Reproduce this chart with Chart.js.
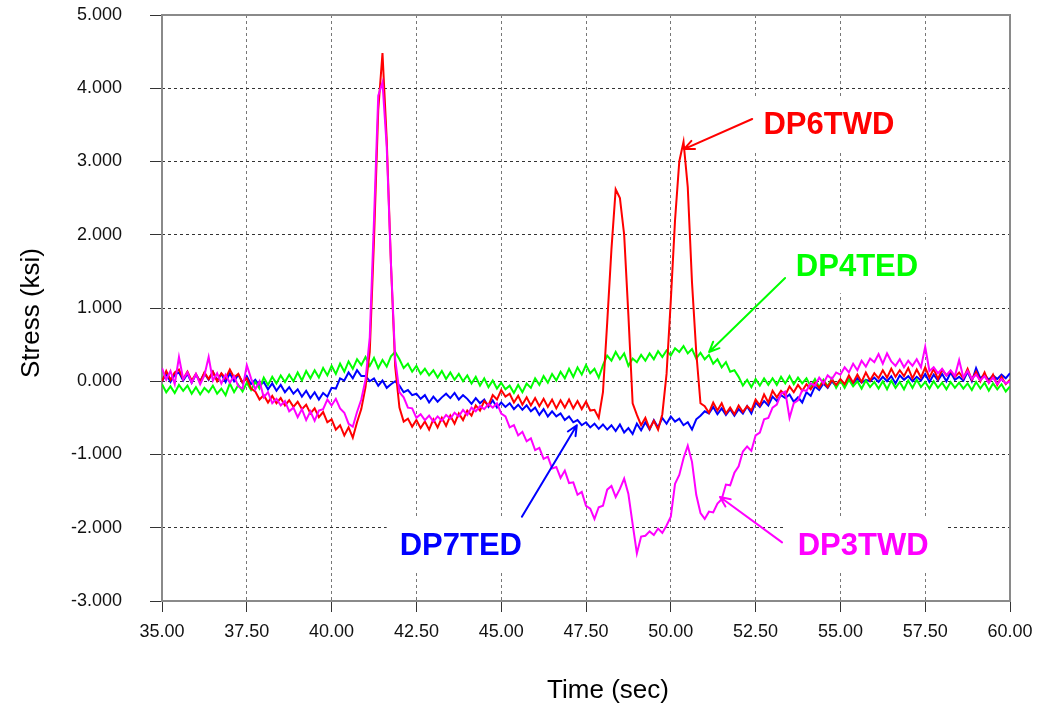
<!DOCTYPE html>
<html>
<head>
<meta charset="utf-8">
<title>Stress vs Time</title>
<script src="https://cdn.jsdelivr.net/npm/chart.js@4.4.0/dist/chart.umd.min.js"></script>
<style>
  html, body { margin: 0; padding: 0; background: #ffffff; }
  #wrap { width: 1040px; height: 713px; }
</style>
</head>
<body>
<div id="wrap"><canvas id="c" width="1040" height="713"></canvas></div>
<script>
// Sampling grid: one reading every 0.125 s from 35 s to 60 s
const T_START = 35;
const T_STEP = 0.125;
const time = Array.from({ length: 201 }, (_, i) => T_START + i * T_STEP);

// Tick labels
const timeTicks = [35, 37.5, 40, 42.5, 45, 47.5, 50, 52.5, 55, 57.5, 60];
const stressTicks = [-3, -2, -1, 0, 1, 2, 3, 4, 5];

// Gauge readings (ksi), one row per second
const dp4ted = [
  -0.04, -0.15, -0.07, -0.16, -0.05, -0.13, -0.06, -0.17,
  -0.08, -0.18, -0.09, -0.15, -0.06, -0.17, -0.10, -0.19,
  -0.03, -0.15, -0.05, -0.14, -0.02, -0.12, -0.01, -0.10,
  0.05, -0.05, 0.06, -0.03, 0.08, -0.01, 0.09, 0.00,
  0.12, 0.01, 0.14, 0.04, 0.15, 0.05, 0.18, 0.08,
  0.21, 0.10, 0.24, 0.13, 0.27, 0.17, 0.30, 0.22,
  0.33, 0.21, 0.32, 0.18, 0.29, 0.20, 0.34, 0.40,
  0.30, 0.18, 0.24, 0.13, 0.21, 0.10, 0.17, 0.08,
  0.15, 0.05, 0.14, 0.03, 0.12, 0.02, 0.10, 0.00,
  0.08, -0.03, 0.06, -0.06, 0.04, -0.08, 0.01, -0.10,
  -0.02, -0.11, -0.06, -0.16, -0.05, -0.15, -0.03, -0.09,
  0.04, -0.05, 0.07, -0.02, 0.10, 0.01, 0.13, 0.04,
  0.17, 0.06, 0.19, 0.09, 0.22, 0.11, 0.17, 0.05,
  0.22, 0.35, 0.28, 0.40, 0.30, 0.38, 0.21, 0.31,
  0.26, 0.36, 0.28, 0.38, 0.30, 0.41, 0.33, 0.42,
  0.35, 0.45, 0.40, 0.48, 0.38, 0.44, 0.31, 0.39,
  0.30, 0.36, 0.24, 0.30, 0.19, 0.26, 0.13, 0.15,
  0.06, -0.06, 0.02, -0.08, 0.03, -0.06, 0.04, -0.05,
  0.04, -0.05, 0.06, -0.03, 0.07, -0.04, 0.05, -0.03,
  0.04, -0.07, 0.03, -0.08, 0.02, -0.07, 0.04, -0.09,
  0.01, -0.09, 0.02, -0.07, 0.00, -0.10, 0.01, -0.08,
  -0.01, -0.10, 0.00, -0.11, 0.01, -0.09, -0.01, -0.11,
  0.01, -0.09, 0.02, -0.08, -0.01, -0.10, 0.00, -0.09,
  -0.02, -0.11, -0.01, -0.09, -0.02, -0.10, -0.03, -0.12,
  -0.01, -0.10, -0.02, -0.13, -0.03, -0.11, -0.04, -0.14,
  -0.07
];

const dp6twd = [
  0.00, 0.14, 0.02, 0.12, 0.16, 0.03, 0.13, 0.01,
  0.10, -0.01, 0.12, 0.03, 0.13, 0.00, 0.11, 0.04,
  0.16, 0.05, 0.10, -0.02, 0.04, -0.10, -0.14, -0.25,
  -0.19, -0.29, -0.20, -0.30, -0.23, -0.33, -0.26, -0.35,
  -0.28, -0.38, -0.32, -0.44, -0.37, -0.49, -0.42, -0.56,
  -0.52, -0.66, -0.60, -0.74, -0.63, -0.77, -0.56, -0.38,
  -0.08, 0.40, 1.93, 3.70, 4.48, 3.30, 1.60, 0.20,
  -0.36, -0.55, -0.51, -0.62, -0.53, -0.64, -0.55, -0.66,
  -0.52, -0.63, -0.50, -0.61, -0.47, -0.58, -0.44, -0.53,
  -0.40, -0.47, -0.33, -0.40, -0.27, -0.33, -0.19, -0.25,
  -0.12, -0.21, -0.17, -0.29, -0.20, -0.32, -0.22, -0.33,
  -0.23, -0.34, -0.24, -0.35, -0.25, -0.37, -0.26, -0.36,
  -0.25, -0.37, -0.27, -0.38, -0.28, -0.40, -0.39, -0.50,
  -0.15, 0.80, 1.80, 2.62, 2.50, 2.00, 0.90, -0.30,
  -0.46, -0.60, -0.50, -0.65, -0.54, -0.66, -0.45, 0.10,
  1.10, 2.20, 3.00, 3.27, 2.65, 1.35, 0.40, -0.30,
  -0.34, -0.43, -0.29, -0.40, -0.30, -0.44, -0.36, -0.45,
  -0.33, -0.42, -0.34, -0.40, -0.25, -0.33, -0.18, -0.29,
  -0.13, -0.22, -0.13, -0.19, -0.07, -0.15, -0.05, -0.13,
  -0.04, -0.11, -0.02, -0.09, 0.00, -0.08, 0.02, -0.05,
  0.03, -0.04, 0.08, -0.02, 0.09, -0.01, 0.12, 0.01,
  0.11, 0.04, 0.15, 0.05, 0.17, 0.06, 0.15, 0.07,
  0.18, 0.04, 0.16, 0.05, 0.19, 0.05, 0.17, 0.03,
  0.16, 0.08, 0.14, 0.06, 0.12, 0.04, 0.17, 0.02,
  0.13, 0.00, 0.12, -0.02, 0.09, -0.05, 0.06, -0.04,
  0.02
];

const dp7ted = [
  0.00, 0.10, -0.01, 0.09, 0.12, 0.01, 0.10, -0.02,
  0.09, 0.00, 0.11, 0.02, 0.13, 0.01, 0.10, -0.01,
  0.11, 0.00, 0.09, -0.02, 0.07, -0.04, 0.02, -0.06,
  -0.01, -0.11, -0.03, -0.13, -0.05, -0.15, -0.08, -0.17,
  -0.11, -0.21, -0.13, -0.23, -0.15, -0.25, -0.16, -0.21,
  -0.09, -0.10, 0.04, 0.01, 0.12, 0.04, 0.15, 0.07,
  0.07, 0.00, 0.04, -0.06, 0.01, -0.09, -0.04, 0.00,
  -0.06, -0.15, -0.12, -0.19, -0.17, -0.24, -0.19, -0.29,
  -0.21, -0.28, -0.22, -0.17, -0.23, -0.16, -0.25, -0.19,
  -0.24, -0.31, -0.23, -0.30, -0.25, -0.35, -0.26, -0.36,
  -0.29, -0.35, -0.30, -0.38, -0.32, -0.39, -0.33, -0.41,
  -0.36, -0.46, -0.38, -0.48, -0.41, -0.48, -0.44, -0.53,
  -0.48, -0.56, -0.53, -0.60, -0.56, -0.63, -0.58, -0.65,
  -0.59, -0.66, -0.60, -0.68, -0.59, -0.70, -0.64, -0.72,
  -0.58, -0.67, -0.56, -0.66, -0.53, -0.63, -0.50, -0.58,
  -0.48, -0.55, -0.51, -0.60, -0.56, -0.66, -0.52, -0.47,
  -0.41, -0.44, -0.35, -0.45, -0.37, -0.46, -0.38, -0.47,
  -0.38, -0.44, -0.34, -0.44, -0.29, -0.35, -0.27, -0.33,
  -0.21, -0.27, -0.19, -0.23, -0.18, -0.28, -0.22, -0.29,
  -0.15, -0.20, -0.07, -0.12, -0.03, -0.09, 0.00, -0.07,
  0.02, -0.04, 0.03, -0.03, 0.04, -0.02, 0.02, 0.00,
  0.05, -0.01, 0.06, 0.00, 0.07, -0.03, 0.08, 0.02,
  0.07, 0.00, 0.06, 0.01, 0.10, -0.01, 0.09, 0.01,
  0.10, 0.00, 0.12, 0.02, 0.06, 0.01, 0.13, 0.00,
  0.18, 0.04, 0.09, 0.02, 0.08, 0.03, 0.09, 0.04,
  0.11
];

const dp3twd = [
  0.18, 0.02, 0.14, -0.04, 0.33, 0.03, 0.12, -0.02,
  0.10, -0.04, 0.08, 0.33, 0.01, 0.11, -0.03, 0.09,
  -0.02, 0.07, -0.07, -0.10, 0.22, 0.04, -0.11, 0.00,
  -0.22, -0.15, -0.30, -0.24, -0.33, -0.27, -0.41, -0.36,
  -0.49, -0.38, -0.53, -0.41, -0.54, -0.40, -0.38, -0.25,
  -0.33, -0.24, -0.37, -0.43, -0.58, -0.62, -0.42, -0.25,
  0.02, 0.60, 2.20, 3.90, 4.08, 3.20, 1.60, 0.30,
  -0.15, -0.22, -0.36, -0.37, -0.50, -0.45, -0.53, -0.47,
  -0.55, -0.48, -0.54, -0.46, -0.51, -0.43, -0.48, -0.39,
  -0.46, -0.36, -0.41, -0.34, -0.38, -0.31, -0.36, -0.30,
  -0.44, -0.48, -0.63, -0.60, -0.74, -0.69, -0.82, -0.78,
  -0.94, -0.91, -1.06, -1.03, -1.19, -1.17, -1.32, -1.22,
  -1.39, -1.38, -1.55, -1.51, -1.70, -1.74, -1.88, -1.72,
  -1.70, -1.48, -1.43, -1.58, -1.47, -1.33, -1.54, -1.95,
  -2.35, -2.12, -2.11, -2.05, -2.10, -2.01, -2.07, -1.97,
  -1.85, -1.40, -1.28, -1.05, -0.88, -1.10, -1.55, -1.80,
  -1.88, -1.78, -1.79, -1.67, -1.61, -1.41, -1.42, -1.25,
  -1.16, -0.96, -0.89, -0.95, -0.74, -0.70, -0.52, -0.50,
  -0.36, -0.32, -0.17, -0.14, -0.50, -0.30, -0.26, -0.12,
  -0.13, -0.03, -0.06, 0.05, -0.03, 0.08, 0.03, 0.12,
  0.09, 0.19, 0.12, 0.24, 0.15, 0.28, 0.20, 0.31,
  0.26, 0.37, 0.24, 0.38, 0.27, 0.21, 0.30, 0.19,
  0.28, 0.21, 0.30, 0.19, 0.47, 0.14, 0.19, 0.11,
  0.17, 0.08, 0.15, 0.07, 0.29, 0.05, 0.14, 0.03,
  0.09, 0.01, 0.07, -0.02, 0.05, -0.04, 0.03, -0.03,
  0.00
];

// Callout labels: text position, arrow tail and arrow tip, all in (time, stress)
const callouts = [
  { text: 'DP6TWD', color: '#ff0000', at: [54.66, 3.51], tail: [52.40, 3.58], tip: [50.39, 3.17] },
  { text: 'DP4TED', color: '#00ff00', at: [55.49, 1.57], tail: [53.37, 1.41], tip: [51.13, 0.40] },
  { text: 'DP7TED', color: '#0000ff', at: [43.81, -2.24], tail: [45.61, -1.85], tip: [47.23, -0.60] },
  { text: 'DP3TWD', color: '#ff00ff', at: [55.67, -2.24], tail: [53.28, -2.20], tip: [51.45, -1.58] }
];

const FONT = "'Liberation Sans', Arial, Helvetica, sans-serif";

const toPoints = vals => vals.map((v, i) => ({ x: time[i], y: v }));

// Plot frame drawn under the traces
const framePlugin = {
  id: 'frame',
  beforeDatasetsDraw(chart) {
    const { ctx, chartArea: a } = chart;
    ctx.save();
    ctx.strokeStyle = '#8a8a8a';
    ctx.lineWidth = 2;
    ctx.strokeRect(a.left, a.top, a.right - a.left, a.bottom - a.top);
    ctx.restore();
  }
};

// Axis titles and labelled arrows
const annotatePlugin = {
  id: 'annotate',
  afterDraw(chart) {
    const { ctx, chartArea: a, scales } = chart;
    const X = v => scales.x.getPixelForValue(v);
    const Y = v => scales.y.getPixelForValue(v);

    ctx.save();
    ctx.fillStyle = '#000';
    ctx.font = '26px ' + FONT;
    ctx.textAlign = 'center';
    ctx.textBaseline = 'middle';
    ctx.fillText('Time (sec)', (a.left + a.right) / 2 + 22, 691);
    ctx.translate(32, (a.top + a.bottom) / 2 + 5);
    ctx.rotate(-Math.PI / 2);
    ctx.fillText('Stress (ksi)', 0, 0);
    ctx.restore();

    callouts.forEach(c => {
      const cx = X(c.at[0]), cy = Y(c.at[1]);
      ctx.save();
      ctx.font = 'bold 31px ' + FONT;
      const w = ctx.measureText(c.text).width;
      // white panel behind the label
      ctx.fillStyle = '#ffffff';
      ctx.fillRect(cx - w / 2 - 13, cy - 27, w + 31, 54);
      ctx.fillStyle = c.color;
      ctx.textAlign = 'center';
      ctx.textBaseline = 'middle';
      ctx.fillText(c.text, cx, cy + 1);

      // arrow
      const x0 = X(c.tail[0]), y0 = Y(c.tail[1]);
      const x1 = X(c.tip[0]), y1 = Y(c.tip[1]);
      ctx.strokeStyle = c.color;
      ctx.lineWidth = 2;
      ctx.lineCap = 'round';
      ctx.beginPath();
      ctx.moveTo(x0, y0);
      ctx.lineTo(x1, y1);
      const ang = Math.atan2(y1 - y0, x1 - x0);
      const head = 11, spread = 0.42;
      ctx.moveTo(x1, y1);
      ctx.lineTo(x1 - head * Math.cos(ang - spread), y1 - head * Math.sin(ang - spread));
      ctx.moveTo(x1, y1);
      ctx.lineTo(x1 - head * Math.cos(ang + spread), y1 - head * Math.sin(ang + spread));
      ctx.stroke();
      ctx.restore();
    });
  }
};

new Chart(document.getElementById('c'), {
  type: 'line',
  data: {
    datasets: [
      { label: 'DP3TWD', data: toPoints(dp3twd), borderColor: '#ff00ff', order: 0 },
      { label: 'DP6TWD', data: toPoints(dp6twd), borderColor: '#ff0000', order: 1 },
      { label: 'DP4TED', data: toPoints(dp4ted), borderColor: '#00ff00', order: 2 },
      { label: 'DP7TED', data: toPoints(dp7ted), borderColor: '#0000ff', order: 3 }
    ]
  },
  options: {
    responsive: false,
    animation: false,
    devicePixelRatio: 1,
    layout: { padding: { top: 15, right: 30, left: 0, bottom: 0 } },
    elements: {
      point: { radius: 0 },
      line: { borderWidth: 2, tension: 0, fill: false }
    },
    plugins: { legend: { display: false }, tooltip: { enabled: false } },
    scales: {
      x: {
        type: 'linear',
        min: 35,
        max: 60,
        afterFit(s) { s.height = 112; s.paddingLeft = 0; s.paddingRight = 0; },
        afterBuildTicks(s) { s.ticks = timeTicks.map(v => ({ value: v })); },
        ticks: {
          callback: v => Number(v).toFixed(2),
          font: { family: FONT, size: 18 },
          color: '#111',
          padding: 9,
          maxRotation: 0,
          autoSkip: false
        },
        grid: { color: '#777', lineWidth: 1, tickLength: 11, tickColor: '#333', tickWidth: 1 },
        border: { display: false, dash: [3, 3] }
      },
      y: {
        min: -3,
        max: 5,
        afterFit(s) { s.width = 162; s.paddingTop = 0; s.paddingBottom = 0; },
        afterBuildTicks(s) { s.ticks = stressTicks.map(v => ({ value: v })); },
        ticks: {
          callback: v => Number(v).toFixed(3),
          font: { family: FONT, size: 18 },
          color: '#111',
          padding: 28,
          autoSkip: false
        },
        grid: { color: '#333', lineWidth: 1, tickLength: 12, tickColor: '#333', tickWidth: 1 },
        border: { display: false, dash: [3, 3] }
      }
    }
  },
  plugins: [framePlugin, annotatePlugin]
});
</script>
</body>
</html>
